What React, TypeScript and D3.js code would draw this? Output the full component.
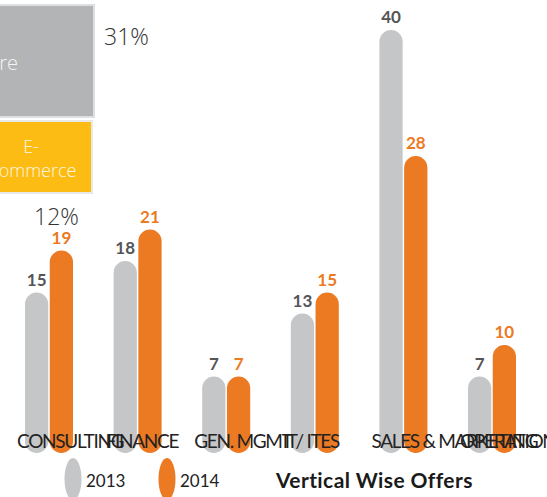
import React from "react";
import * as d3 from "d3";

const categories = ["CONSULTING", "FINANCE", "GEN. MGMT", "IT/ ITES", "SALES & MARKETING", "OPERATIONS"];
const series = ["2013", "2014"];
const values2013 = [15, 18, 7, 13, 40, 7];
const values2014 = [19, 21, 7, 15, 28, 10];
const colors = ["#c5c6c8", "#eb7a23"];
const labelColors = ["#555557", "#eb7a23"];
const title = "Vertical Wise Offers";

const W = 547;
const H = 497;

export default function App() {
  const x = d3.scaleBand<string>().domain(categories).range([25, 516]).paddingInner(0.458).paddingOuter(0);
  const xs = d3.scaleBand<string>().domain(series).range([0, x.bandwidth()]).paddingInner(0.06);
  const y = d3.scaleLinear().domain([0, 40]).range([450, 30]);
  const base = 453;
  const bw = xs.bandwidth();
  const data = [values2013, values2014];

  return (
    <svg width={W} height={H} style={{ position: "fixed", left: 0, top: 0, background: "#fff" }}>
      {/* top-left treemap fragments */}
      <rect x={-60} y={5} width={154} height={112} fill="#b3b4b6" stroke="#dedfe0" strokeWidth={2} />
      <text x={18} y={70} textAnchor="end" fill="#f4f4f4" fontFamily="Open Sans" fontSize={20} fontWeight={300}>Software</text>
      <rect x={-60} y={121} width={152} height={72} fill="#fcbc13" stroke="#e8e8e8" strokeWidth={2} />
      <text x={31} y={153} textAnchor="middle" fill="#fdf6e0" fontFamily="Open Sans" fontSize={18} fontWeight={300}>E-</text>
      <text x={32} y={177} textAnchor="middle" fill="#fdf6e0" fontFamily="Open Sans" fontSize={18} fontWeight={300}>Commerce</text>
      <text x={104} y={45} fill="#333" fontFamily="Open Sans" fontSize={23} fontWeight={300}>31%</text>
      <text x={34} y={225} fill="#333" fontFamily="Open Sans" fontSize={23} fontWeight={300}>12%</text>

      {/* bars */}
      {categories.map((c, i) => (
        <g key={c} transform={`translate(${x(c)},0)`}>
          {series.map((s, j) => {
            const v = data[j][i];
            const top = y(v);
            return (
              <g key={s}>
                <rect x={xs(s)} y={top} width={bw} height={base - top} rx={bw / 2} ry={bw / 2} fill={colors[j]} />
                <text x={(xs(s) as number) + bw / 2} y={top - 7} textAnchor="middle" fill={labelColors[j]}
                  fontFamily="Lato" fontWeight={700} fontSize={17}>{v}</text>
              </g>
            );
          })}
        </g>
      ))}

      {/* category labels */}
      {categories.map((c) => (
        <text key={c} x={(x(c) as number) - 8} y={448} fill="#222" fontFamily="Lato" fontSize={19} letterSpacing={-1.3}>{c}</text>
      ))}

      {/* legend */}
      {series.map((s, j) => (
        <g key={s} transform={`translate(${73 + j * 94},0)`}>
          <ellipse cx={0} cy={479} rx={8.5} ry={21} fill={colors[j]} />
          <text x={13} y={487} fill="#222" fontFamily="Lato" fontSize={17}>{s}</text>
        </g>
      ))}
      <text x={276} y={488} fill="#1a1a1a" fontFamily="Lato" fontWeight={700} fontSize={21} letterSpacing={0.4}>{title}</text>
    </svg>
  );
}
